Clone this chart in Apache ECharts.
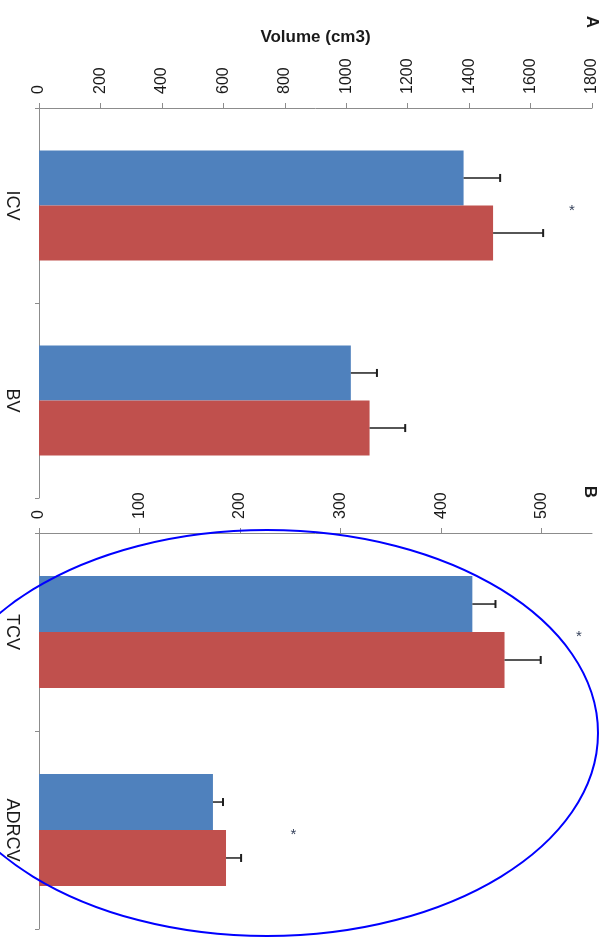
<!DOCTYPE html>
<html>
<head>
<meta charset="utf-8">
<script src="https://cdn.jsdelivr.net/npm/echarts@6/dist/echarts.min.js"></script>
<style>
html, body { margin: 0; padding: 0; background: #ffffff; }
#chart { width: 604px; height: 937px; }
</style>
</head>
<body>
<div id="chart"></div>
<script>
// Panel A: whole-brain volumes
const categoriesA = ['ICV', 'BV'];
const groupA1 = [1382, 1015];
const errA1 = [119, 85];
const groupA2 = [1478, 1076];
const errA2 = [163, 116];
const ticksA = [0, 200, 400, 600, 800, 1000, 1200, 1400, 1600, 1800];
const starsA = [[1735, 0]];

// Panel B: compartment volumes
const categoriesB = ['TCV', 'ADRCV'];
const groupB1 = [431, 173];
const errB1 = [23, 10];
const groupB2 = [463, 186];
const errB2 = [36, 15];
const ticksB = [0, 100, 200, 300, 400, 500];
const starsB = [[537, 0], [253, 1]];

const FONT = '"Liberation Sans", Arial, sans-serif';
const GAP = 0.435;          // share of each category band left empty
const BLUE = '#4f81bd';
const RED = '#c0504d';
const AXIS = '#8c8c8c';
const INK = '#1a1a1a';

const chart = echarts.init(document.getElementById('chart'), null, { renderer: 'canvas' });

function valueAxis(gridIndex, max, ticks, extra) {
  return Object.assign({
    type: 'value', gridIndex, position: 'top', min: 0, max,
    axisLine: { show: true, lineStyle: { color: AXIS, width: 1 } },
    axisTick: { show: true, length: 5, lineStyle: { color: AXIS }, customValues: ticks },
    axisLabel: {
      rotate: -90, margin: 14, fontSize: 16, color: INK, fontFamily: FONT,
      customValues: ticks, formatter: v => String(v)
    },
    splitLine: { show: false }
  }, extra || {});
}

function categoryAxis(gridIndex, data) {
  return {
    type: 'category', gridIndex, data, inverse: true,
    axisLine: { show: true, lineStyle: { color: AXIS, width: 1 } },
    axisTick: { show: true, length: 4, lineStyle: { color: AXIS } },
    axisLabel: { rotate: -90, margin: 18, fontSize: 18, color: INK, fontFamily: FONT }
  };
}

function bars(idx, values, color) {
  return {
    type: 'bar', xAxisIndex: idx, yAxisIndex: idx, data: values,
    barGap: '0%', barCategoryGap: (GAP * 100) + '%',
    itemStyle: { color }, silent: true
  };
}

function errorBars(idx, values, errs, side) {
  return {
    type: 'custom', xAxisIndex: idx, yAxisIndex: idx, z: 5, silent: true,
    data: values.map((v, i) => [i, v, errs[i]]),
    encode: { x: 1, y: 0 },
    renderItem(params, api) {
      const cat = api.value(0), v = api.value(1), e = api.value(2);
      const band = api.size([0, 1])[1];
      const barW = band * (1 - GAP) / 2;
      const p0 = api.coord([v, cat]);
      const p1 = api.coord([v + e, cat]);
      const y = p0[1] + side * barW / 2;
      return {
        type: 'group',
        children: [
          { type: 'line', shape: { x1: p0[0], y1: y, x2: p1[0], y2: y }, style: { stroke: '#1e1e1e', lineWidth: 1.5 } },
          { type: 'line', shape: { x1: p1[0], y1: y - 4, x2: p1[0], y2: y + 4 }, style: { stroke: '#1e1e1e', lineWidth: 2 } }
        ]
      };
    }
  };
}

function stars(idx, points) {
  return {
    type: 'custom', xAxisIndex: idx, yAxisIndex: idx, z: 6, silent: true,
    data: points,
    encode: { x: 0, y: 1 },
    renderItem(params, api) {
      const p = api.coord([api.value(0), api.value(1)]);
      return {
        type: 'text', x: p[0], y: p[1] + 5,
        style: { text: '*', fontSize: 15, fill: '#34405a', align: 'center', verticalAlign: 'middle', fontFamily: FONT }
      };
    }
  };
}

chart.setOption({
  animation: false,
  backgroundColor: '#ffffff',
  grid: [
    { left: 39, top: 108, width: 553, height: 390, containLabel: false },
    { left: 39, top: 533, width: 553, height: 396, containLabel: false }
  ],
  xAxis: [
    valueAxis(0, 1800, ticksA, {
      name: 'Volume (cm3)', nameLocation: 'middle', nameGap: 62,
      nameTextStyle: { fontSize: 17, fontWeight: 'bold', color: INK, fontFamily: FONT }
    }),
    valueAxis(1, 550, ticksB)
  ],
  yAxis: [categoryAxis(0, categoriesA), categoryAxis(1, categoriesB)],
  series: [
    bars(0, groupA1, BLUE), bars(0, groupA2, RED),
    errorBars(0, groupA1, errA1, -1), errorBars(0, groupA2, errA2, 1),
    stars(0, starsA),
    bars(1, groupB1, BLUE), bars(1, groupB2, RED),
    errorBars(1, groupB1, errB1, -1), errorBars(1, groupB2, errB2, 1),
    stars(1, starsB)
  ],
  graphic: [
    { type: 'text', x: 592, y: 22, rotation: -Math.PI / 2,
      style: { text: 'A', fontSize: 17, fontWeight: 'bold', fill: INK, align: 'center', verticalAlign: 'middle', fontFamily: FONT } },
    { type: 'text', x: 590, y: 492, rotation: -Math.PI / 2,
      style: { text: 'B', fontSize: 17, fontWeight: 'bold', fill: INK, align: 'center', verticalAlign: 'middle', fontFamily: FONT } },
    { type: 'ellipse', z: 100, silent: true,
      shape: { cx: 267, cy: 733, rx: 331, ry: 203 },
      style: { fill: null, stroke: '#0000ff', lineWidth: 2 } }
  ]
});
</script>
</body>
</html>
